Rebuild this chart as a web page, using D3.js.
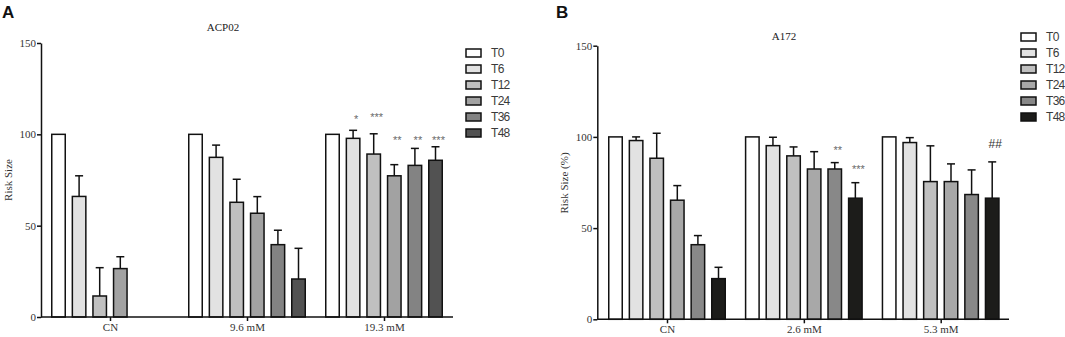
<!DOCTYPE html>
<html>
<head>
<meta charset="utf-8">
<script src="https://cdn.jsdelivr.net/npm/d3@7"></script>
<style>
  body { margin: 0; background: #fff; }
  svg { display: block; }
</style>
</head>
<body>
<div id="chart"></div>
<script>
// timepoints shared by both panels
const series = ['T0', 'T6', 'T12', 'T24', 'T36', 'T48'];

// panel A - ACP02
const groupsA = ['CN', '9.6 mM', '19.3 mM'];
const meansA = [
  [100, 66, 11.5, 26.5, null, null],
  [100, 87.4, 62.8, 56.8, 39.6, 20.8],
  [100, 97.8, 89.2, 77.3, 83.0, 85.8]
];
const errTopA = [
  [100, 77.3, 27, 33, null, null],
  [100, 94.1, 75.4, 65.9, 47.5, 37.6],
  [100, 102.2, 100.3, 83.4, 92.3, 93.2]
];
// significance marks: [group, series, label, level]
const marksA = [
  [2, 1, '*', 109.5],
  [2, 2, '***', 110.5],
  [2, 3, '**', 98],
  [2, 4, '**', 98],
  [2, 5, '***', 98]
];
const coloursA = ['#ffffff', '#e2e2e2', '#c0c0c0', '#a2a2a2', '#838383', '#525252'];

// panel B - A172
const groupsB = ['CN', '2.6 mM', '5.3 mM'];
const meansB = [
  [100, 98.0, 88.3, 65.3, 40.9, 22.3],
  [100, 95.2, 89.6, 82.4, 82.4, 66.4],
  [100, 96.9, 75.5, 75.5, 68.4, 66.4]
];
const errTopB = [
  [100, 100, 102, 73.3, 45.9, 28.5],
  [100, 99.8, 94.5, 91.9, 85.9, 74.9],
  [100, 99.6, 95.1, 85.2, 81.9, 86.3]
];
const marksB = [
  [1, 4, '**', 94],
  [1, 5, '***', 83.7],
  [2, 5, '##', 96.2]
];
const coloursB = ['#ffffff', '#e2e2e2', '#c0c0c0', '#a8a8a8', '#888888', '#1c1c1a'];

const yTicks = [0, 50, 100, 150];

const svg = d3.select('#chart').append('svg')
  .attr('width', 1065)
  .attr('height', 337);

function drawPanel(cfg) {
  const g = svg.append('g');

  const y = d3.scaleLinear().domain([0, 150]).range([cfg.y0, cfg.y150]);
  const x = d3.scalePoint().domain(cfg.groups).range(cfg.centres);
  const xi = d3.scaleBand().domain(series).range([-58.25, 58.25]).paddingInner(0.345);

  // bars
  cfg.groups.forEach((grp, gi) => {
    const cell = g.append('g').attr('transform', `translate(${x(grp)},0)`);
    const rows = series.map((s, si) => ({ s, si, v: cfg.means[gi][si], e: cfg.errTop[gi][si] }))
      .filter(d => d.v !== null);

    cell.selectAll('line.err')
      .data(rows.filter(d => d.e > d.v))
      .join('line')
      .attr('class', 'err')
      .attr('x1', d => xi(d.s) + xi.bandwidth() / 2)
      .attr('x2', d => xi(d.s) + xi.bandwidth() / 2)
      .attr('y1', d => y(d.v))
      .attr('y2', d => y(d.e))
      .attr('stroke', '#111')
      .attr('stroke-width', 1.5);

    cell.selectAll('line.cap')
      .data(rows.filter(d => d.e > d.v))
      .join('line')
      .attr('class', 'cap')
      .attr('x1', d => xi(d.s) + xi.bandwidth() / 2 - 4)
      .attr('x2', d => xi(d.s) + xi.bandwidth() / 2 + 4)
      .attr('y1', d => y(d.e))
      .attr('y2', d => y(d.e))
      .attr('stroke', '#111')
      .attr('stroke-width', 1.5);

    cell.selectAll('rect')
      .data(rows)
      .join('rect')
      .attr('x', d => xi(d.s))
      .attr('y', d => y(d.v))
      .attr('width', xi.bandwidth())
      .attr('height', d => y(0) - y(d.v))
      .attr('fill', d => cfg.colours[d.si])
      .attr('stroke', '#111')
      .attr('stroke-width', 1.5);
  });

  // significance marks
  g.selectAll('text.mark')
    .data(cfg.marks)
    .join('text')
    .attr('class', 'mark')
    .attr('x', d => x(cfg.groups[d[0]]) + xi(series[d[1]]) + xi.bandwidth() / 2 + 3)
    .attr('y', d => y(d[3]))
    .attr('dy', d => d[2].includes('*') ? 6 : 4)
    .attr('text-anchor', 'middle')
    .style('font-family', 'Liberation Sans, Arial, sans-serif')
    .style('font-size', d => d[2].includes('*') ? '11px' : '12px')
    .attr('fill', d => d[2].includes('*') ? '#6a6a6a' : '#333')
    .text(d => d[2]);

  // y axis
  g.append('g')
    .attr('transform', `translate(${cfg.axisX},0)`)
    .call(d3.axisLeft(y).tickValues(yTicks).tickSize(4).tickSizeOuter(0).tickPadding(1))
    .call(a => a.select('.domain').attr('stroke-width', 1.5).attr('stroke', '#111'))
    .call(a => a.selectAll('.tick line').attr('stroke-width', 1.5).attr('stroke', '#111'))
    .call(a => a.selectAll('.tick text')
      .style('font-family', 'Liberation Serif, Times New Roman, serif')
      .style('font-size', '11px')
      .attr('fill', '#333'));

  // x axis
  const xa = g.append('g')
    .attr('transform', `translate(0,${cfg.y0})`)
    .call(d3.axisBottom(x).tickSize(4).tickPadding(2))
    .call(a => a.select('.domain').remove())
    .call(a => a.selectAll('.tick line').attr('stroke-width', 1.5).attr('stroke', '#111'))
    .call(a => a.selectAll('.tick text')
      .style('font-family', 'Liberation Serif, Times New Roman, serif')
      .style('font-size', '11px')
      .attr('fill', '#333'));
  xa.append('line')
    .attr('x1', cfg.axisX)
    .attr('x2', cfg.axisEnd)
    .attr('stroke', '#111')
    .attr('stroke-width', 1.5);

  // y label
  g.append('text')
    .attr('transform', `translate(${cfg.labelX},${cfg.labelY}) rotate(-90)`)
    .attr('text-anchor', 'middle')
    .style('font-family', 'Liberation Serif, Times New Roman, serif')
    .style('font-size', '11px')
    .attr('fill', '#333')
    .text(cfg.yLabel);

  // title
  g.append('text')
    .attr('x', cfg.titleX)
    .attr('y', cfg.titleY)
    .attr('text-anchor', 'middle')
    .style('font-family', 'Liberation Serif, Times New Roman, serif')
    .style('font-size', '11px')
    .attr('fill', '#222')
    .text(cfg.title);

  // panel letter
  g.append('text')
    .attr('x', cfg.letterX)
    .attr('y', 18)
    .style('font-family', 'Liberation Sans, Arial, sans-serif')
    .style('font-size', '17px')
    .style('font-weight', 'bold')
    .attr('fill', '#111')
    .text(cfg.letter);

  // legend
  const leg = g.append('g')
    .attr('transform', `translate(${cfg.legendX},${cfg.legendY})`);
  const items = leg.selectAll('g')
    .data(series)
    .join('g')
    .attr('transform', (d, i) => `translate(0,${i * 16})`);
  items.append('rect')
    .attr('x', 0)
    .attr('y', -4)
    .attr('width', 15)
    .attr('height', 8)
    .attr('fill', (d, i) => cfg.colours[i])
    .attr('stroke', '#111')
    .attr('stroke-width', 1.5);
  items.append('text')
    .attr('x', 25)
    .attr('y', 0)
    .attr('dy', '0.36em')
    .style('font-family', 'Liberation Sans, Arial, sans-serif')
    .style('font-size', '12px')
    .style('letter-spacing', '-0.7px')
    .attr('fill', '#3a3a3a')
    .text(d => d);
}

drawPanel({
  groups: groupsA, means: meansA, errTop: errTopA, marks: marksA, colours: coloursA,
  y0: 317, y150: 43, centres: [110, 384], axisX: 41, axisEnd: 453,
  yLabel: 'Risk Size', labelX: 11.5, labelY: 180,
  title: 'ACP02', titleX: 223, titleY: 31,
  letter: 'A', letterX: 2,
  legendX: 466, legendY: 53
});

drawPanel({
  groups: groupsB, means: meansB, errTop: errTopB, marks: marksB, colours: coloursB,
  y0: 319.3, y150: 45.7, centres: [667, 940.7], axisX: 597.3, axisEnd: 1009,
  yLabel: 'Risk Size (%)', labelX: 568, labelY: 183,
  title: 'A172', titleX: 784, titleY: 40,
  letter: 'B', letterX: 556,
  legendX: 1021, legendY: 37
});
</script>
</body>
</html>
